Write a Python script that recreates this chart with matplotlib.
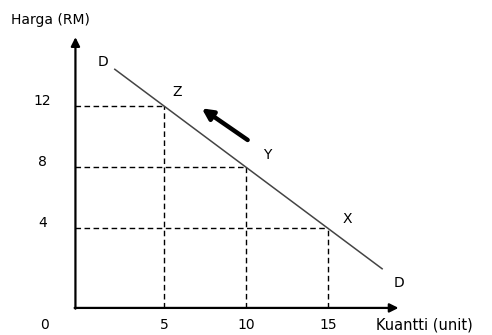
import matplotlib
matplotlib.use('Agg')
import matplotlib.pyplot as plt

# points on the demand curve
qty = [5, 10, 15]
price = [12, 8, 4]
point_labels = ['Z', 'Y', 'X']

# demand curve ends
curve_q = [2.0, 18.3]
curve_p = [14.4, 1.36]

x_ticks = [5, 10, 15]
y_ticks = [4, 8, 12]

plt.rcParams['font.family'] = ['DejaVu Sans']

fig = plt.figure(figsize=(4.92, 3.35), dpi=100)
ax = fig.add_axes([0, 0, 1, 1])
ax.set_xlim(-5, 25)
ax.set_ylim(-2.97, 18.93)
ax.axis('off')

ox, oy = -0.4, -1.2
# axes with arrows
ax.annotate('', xy=(ox, 16.5), xytext=(ox, oy - 0.05),
            arrowprops=dict(arrowstyle='-|>', color='black', lw=1.6,
                            mutation_scale=13, shrinkA=0, shrinkB=0))
ax.annotate('', xy=(19.3, oy), xytext=(ox - 0.05, oy),
            arrowprops=dict(arrowstyle='-|>', color='black', lw=1.6,
                            mutation_scale=13, shrinkA=0, shrinkB=0))

# dashed guides
for q, p in zip(qty, price):
    ax.plot([ox, q], [p, p], color='black', lw=1, ls=(0, (4, 2.5)))
    ax.plot([q, q], [oy, p], color='black', lw=1, ls=(0, (4, 2.5)))

# demand curve
ax.plot(curve_q, curve_p, color='#444444', lw=1.1)

# movement arrow
ax.annotate('', xy=(7.3, 11.85), xytext=(10.1, 9.78),
            arrowprops=dict(arrowstyle='-|>', color='black', lw=3.2,
                            mutation_scale=16, shrinkA=0, shrinkB=0))

fs = 10
ax.text(1.3, 14.9, 'D', fontsize=fs, ha='center', va='center')
ax.text(19.3, 0.4, 'D', fontsize=fs, ha='center', va='center')
offsets = [(0.8, 0.9), (1.3, 0.8), (1.2, 0.6)]
for q, p, lab, (dx, dy) in zip(qty, price, point_labels, offsets):
    ax.text(q + dx, p + dy, lab, fontsize=fs, ha='center', va='center')

for p in y_ticks:
    ax.text(-2.4, p + 0.35, str(p), fontsize=fs, ha='center', va='center')
for q in x_ticks:
    ax.text(q, -2.3, str(q), fontsize=fs, ha='center', va='center')
ax.text(-2.3, -2.3, '0', fontsize=fs, ha='center', va='center')
ax.text(17.9, -2.3, 'Kuantti (unit)', fontsize=10.5, ha='left', va='center')
ax.text(-4.3, 17.6, 'Harga (RM)', fontsize=10, ha='left', va='center')

fig.savefig('out.png', dpi=100)
